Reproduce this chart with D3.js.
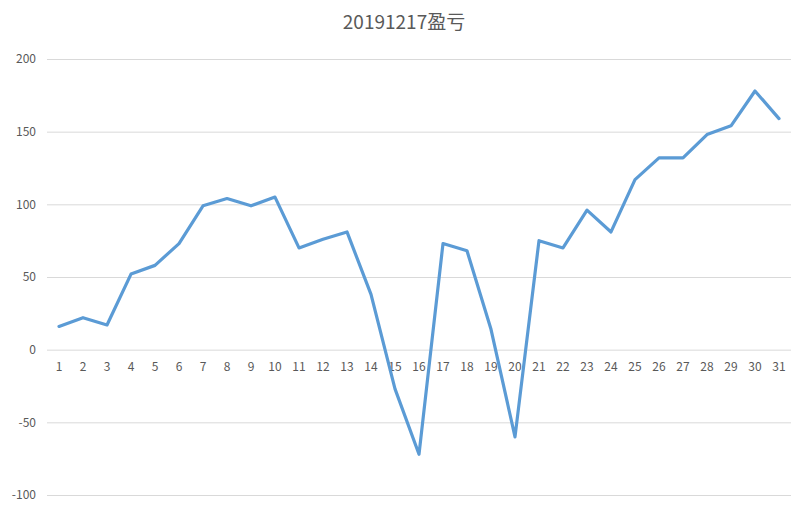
<!DOCTYPE html>
<html><head><meta charset="utf-8">
<script src="https://cdn.jsdelivr.net/npm/d3@7"></script>
<style>body{margin:0;background:#fff;}svg{display:block;}</style>
</head><body>
<svg id="c" width="808" height="513"></svg>
<script>
const title = "20191217盈亏";
const days = d3.range(1, 32).map(String);
const values = [16, 22, 17, 52, 58, 73, 99, 104, 99, 105, 70, 76, 81, 38, -27, -72, 73, 68, 14, -60, 75, 70, 96, 81, 117, 132, 132, 148, 154, 178, 159];
const yTicks = [-100, -50, 0, 50, 100, 150, 200];

(function () {
const svg = d3.select("#c");
const mLeft = 47, mRight = 791, mTop = 59, mBottom = 495;
const x = d3.scaleBand().domain(days).range([mLeft, mRight]);
const y = d3.scaleLinear().domain([-100, 200]).range([mBottom, mTop]);
const font = "'Noto Sans CJK SC', 'Open Sans', sans-serif";

svg.append("text").attr("x", 404).attr("y", 29).attr("text-anchor", "middle")
  .attr("font-family", font).attr("font-size", 19).attr("fill", "#595959").text(title);

const yAxis = d3.axisLeft(y).tickValues(yTicks).tickFormat(d => String(d)).tickSize(-(mRight - mLeft)).tickPadding(11);
const gy = svg.append("g").attr("transform", `translate(${mLeft},0)`).call(yAxis);
gy.select(".domain").remove();
gy.selectAll(".tick line").attr("stroke", "#d9d9d9").attr("stroke-width", 1);
gy.selectAll(".tick text").attr("font-family", font).attr("font-size", 12).attr("fill", "#595959");

const xAxis = d3.axisBottom(x).tickSize(0).tickPadding(13);
const gx = svg.append("g").attr("transform", `translate(0,${y(0)})`).call(xAxis);
gx.select(".domain").remove();
gx.selectAll(".tick text").attr("font-family", font).attr("font-size", 12).attr("fill", "#595959");

const line = d3.line().x((d, i) => x(days[i]) + x.bandwidth() / 2).y(d => y(d));
svg.append("path").datum(values).attr("d", line).attr("fill", "none")
  .attr("stroke", "#5b9bd5").attr("stroke-width", 3.2).attr("stroke-linejoin", "round").attr("stroke-linecap", "round");
})();
</script>
</body></html>
